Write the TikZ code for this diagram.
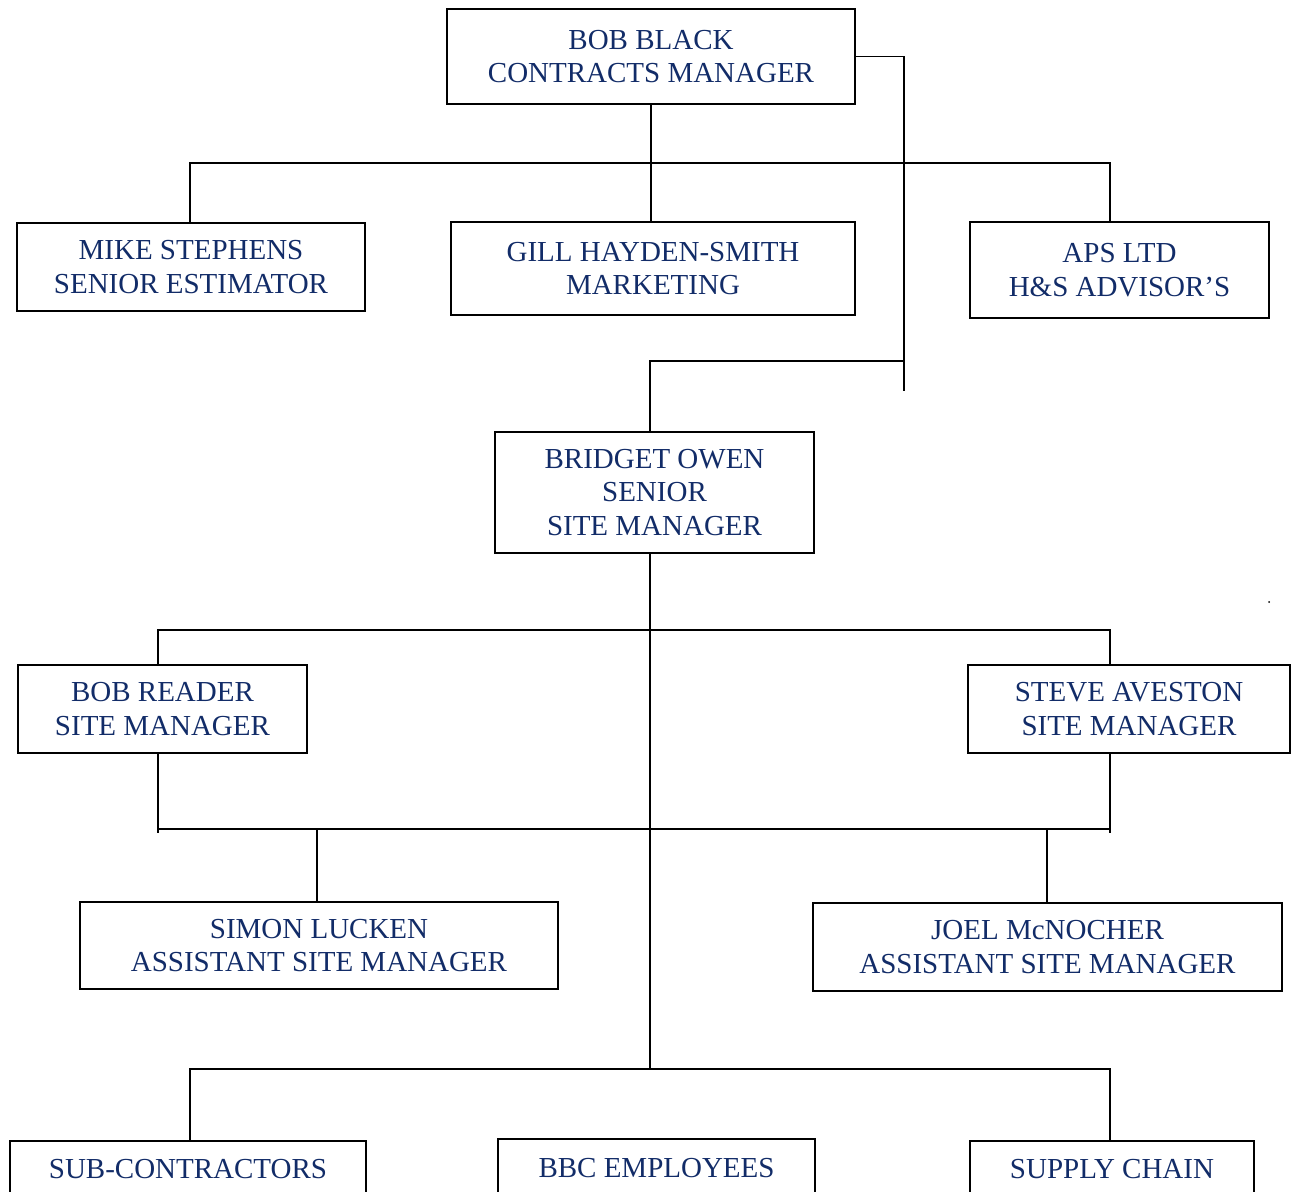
\documentclass[tikz,border=0pt]{standalone}
\usepackage{fontspec}
\setmainfont{Liberation Serif}
\definecolor{navy}{RGB}{18,44,104}

\begin{document}
\begin{tikzpicture}[x=0.02cm, y=-0.02cm, line width=1.1pt,
	box/.style={draw, align=center, text=navy, inner sep=0pt,
		font=\fontsize{16.5}{19}\selectfont},
	bot/.style={box, anchor=north, minimum height=1.12cm}]
	\useasboundingbox (0,0) rectangle (1292,1191);

	\node[box, minimum width=8.16cm, minimum height=1.9cm] (bob) at (651,56.5)
		{BOB BLACK\\CONTRACTS MANAGER};
	\node[box, minimum width=6.96cm, minimum height=1.76cm] (mike) at (191,267)
		{MIKE STEPHENS\\SENIOR ESTIMATOR};
	\node[box, minimum width=8.08cm, minimum height=1.86cm] (gill) at (653,268.5)
		{GILL HAYDEN-SMITH\\MARKETING};
	\node[box, minimum width=5.98cm, minimum height=1.92cm] (aps) at (1119.5,270)
		{APS LTD\\H\&S ADVISOR’S};
	\node[box, minimum width=6.38cm, minimum height=2.42cm] (bridget) at (654.5,492.5)
		{BRIDGET OWEN\\SENIOR\\SITE MANAGER};
	\node[box, minimum width=5.78cm, minimum height=1.76cm] (reader) at (162.5,709)
		{BOB READER\\SITE MANAGER};
	\node[box, minimum width=6.44cm, minimum height=1.76cm] (steve) at (1129,709)
		{STEVE AVESTON\\SITE MANAGER};
	\node[box, minimum width=9.56cm, minimum height=1.74cm] (simon) at (319,945.5)
		{SIMON LUCKEN\\ASSISTANT SITE MANAGER};
	\node[box, minimum width=9.38cm, minimum height=1.76cm] (joel) at (1047.5,947)
		{JOEL McNOCHER\\ASSISTANT SITE MANAGER};
	\node[bot, minimum width=7.12cm] (sub) at (188,1140) {SUB-CONTRACTORS};
	\node[bot, minimum width=6.34cm, minimum height=1.16cm] (bbc) at (656.5,1138) {BBC EMPLOYEES};
	\node[bot, minimum width=5.68cm] (supply) at (1112,1140) {SUPPLY CHAIN};

	\coordinate (t1) at (190,163);
	\coordinate (t2) at (1110,163);
	\coordinate (r1) at (904,391);
	\coordinate (r2) at (904,361);
	\coordinate (b1) at (650,361);
	\coordinate (m1) at (158,630);
	\coordinate (m2) at (1110,630);
	\coordinate (n1) at (158,833);
	\coordinate (n2) at (1110,833);
	\coordinate (h1) at (158,829);
	\coordinate (h2) at (1110,829);
	\coordinate (k1) at (317,829);
	\coordinate (k2) at (1047,829);
	\coordinate (u1) at (190,1069);
	\coordinate (u2) at (1110,1069);
	\coordinate (s1) at (650,1069);

	\draw (bob.south) -- (bob.south |- gill.north);
	\draw (t1 |- mike.north) -- (t1) -- (t2) -- (t2 |- aps.north);
	\draw (bob.east) -| (r1);
	\draw (r2) -- (b1) -- (b1 |- bridget.north);
	\draw (b1 |- bridget.south) -- (s1);
	\draw (m1 |- reader.north) -- (m1) -- (m2) -- (m2 |- steve.north);
	\draw (m1 |- reader.south) -- (n1);
	\draw (m2 |- steve.south) -- (n2);
	\draw (h1) -- (h2);
	\draw (k1) -- (k1 |- simon.north);
	\draw (k2) -- (k2 |- joel.north);
	\draw (u1 |- sub.north) -- (u1) -- (u2) -- (u2 |- supply.north);

	\fill (1269,602) circle (1);
\end{tikzpicture}
\end{document}
